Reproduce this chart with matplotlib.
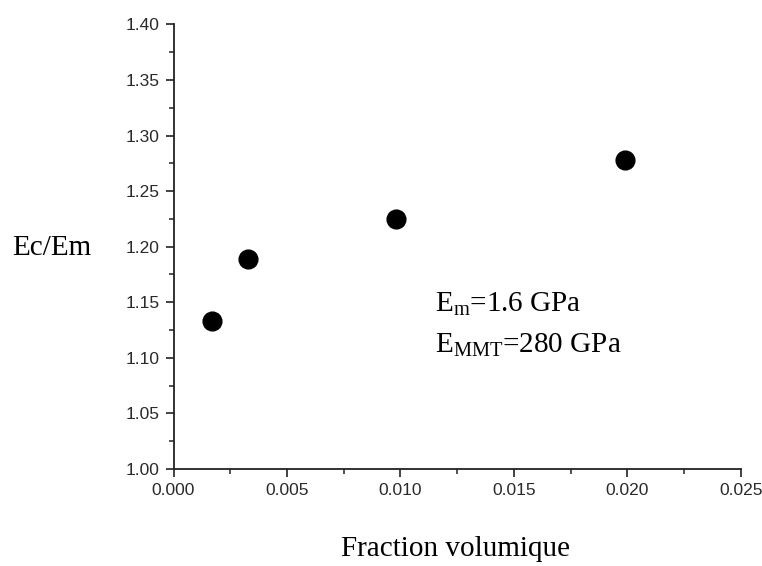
import matplotlib
matplotlib.use("Agg")
import matplotlib.pyplot as plt
from matplotlib.ticker import MultipleLocator

# Data
frac_vol = [0.00168, 0.0033, 0.0098, 0.0199]
ec_em = [1.133, 1.189, 1.225, 1.278]

x_ticks = [0.000, 0.005, 0.010, 0.015, 0.020, 0.025]
y_ticks = [1.00, 1.05, 1.10, 1.15, 1.20, 1.25, 1.30, 1.35, 1.40]

SERIF = "Liberation Serif"
SANS = "Liberation Sans"

plt.rcParams.update({
    "mathtext.fontset": "custom",
    "mathtext.rm": SERIF,
    "mathtext.it": SERIF + ":italic",
})

fig = plt.figure(figsize=(7.62, 5.66), dpi=100)
ax = fig.add_axes([0.2277, 0.1714, 0.7447, 0.7856])

ax.plot(frac_vol, ec_em, "o", color="black", markersize=13.5, linestyle="none")

ax.set_xlim(x_ticks[0], x_ticks[-1])
ax.set_ylim(y_ticks[0], y_ticks[-1])
ax.set_xticks(x_ticks)
ax.set_yticks(y_ticks)
ax.set_xticklabels(["{:.3f}".format(v) for v in x_ticks])
ax.set_yticklabels(["{:.2f}".format(v) for v in y_ticks])
ax.xaxis.set_minor_locator(MultipleLocator(0.0025))
ax.yaxis.set_minor_locator(MultipleLocator(0.025))

for side in ("top", "right"):
    ax.spines[side].set_visible(False)
for side in ("left", "bottom"):
    ax.spines[side].set_linewidth(1.3)
    ax.spines[side].set_color("#222222")

ax.tick_params(which="major", direction="out", length=6, width=1.2,
               color="#222222", labelsize=12.5, labelcolor="#2a2a2a", pad=4)
ax.tick_params(which="minor", direction="out", length=3.5, width=1.1,
               color="#222222")
for lbl in ax.get_xticklabels() + ax.get_yticklabels():
    lbl.set_fontfamily(SANS)

ax.set_ylabel("Ec/Em", rotation=0, fontfamily=SERIF, fontsize=21,
              ha="left", va="center")
ax.yaxis.set_label_coords(-0.2846, 0.498)
ax.set_xlabel("Fraction volumique", fontfamily=SERIF, fontsize=21,
              ha="center", va="baseline")
ax.xaxis.set_label_coords(0.497, -0.196)

ax.text(0.4608, 0.3537, r"E$_{\mathrm{m}}$=1.6 GPa", transform=ax.transAxes,
        fontfamily=SERIF, fontsize=21, va="baseline", ha="left")
ax.text(0.4608, 0.2608, r"E$_{\mathrm{MMT}}$=280 GPa", transform=ax.transAxes,
        fontfamily=SERIF, fontsize=21, va="baseline", ha="left")

fig.savefig("out.png", dpi=100, facecolor="white")
